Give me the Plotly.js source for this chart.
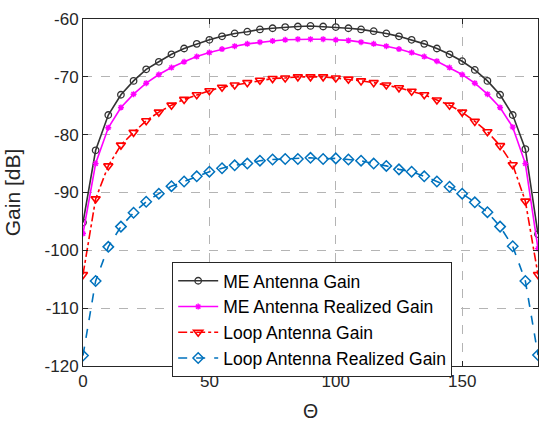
<!DOCTYPE html>
<html>
<head>
<meta charset="utf-8">
<script src="https://cdn.plot.ly/plotly-3.0.1.min.js"></script>
<style>
  html, body { margin: 0; padding: 0; background: #ffffff; }
  #chart { width: 540px; height: 422px; }
</style>
</head>
<body>
<div id="chart"></div>
<script>
// Elevation angle (degrees), sampled every 5 degrees
const theta = [0, 5, 10, 15, 20, 25, 30, 35, 40, 45, 50, 55, 60, 65, 70, 75, 80, 85, 90,
               95, 100, 105, 110, 115, 120, 125, 130, 135, 140, 145, 150, 155, 160, 165, 170, 175, 180];

// Gain values in dB
const meGain = [-95.2, -82.7, -76.6, -73.1, -70.7, -68.7, -67.4, -66.1, -65.1, -64.3, -63.6, -63.0, -62.5,
                -62.2, -61.8, -61.6, -61.4, -61.3, -61.2, -61.3, -61.4, -61.6, -61.8, -62.1, -62.5, -63.0,
                -63.6, -64.3, -65.1, -66.1, -67.3, -68.8, -70.7, -73.1, -76.6, -82.5, -97.2];
const meRealized = [-97.1, -85.0, -78.8, -75.3, -73.0, -71.1, -69.6, -68.4, -67.4, -66.5, -65.8, -65.2, -64.7,
                    -64.3, -64.0, -63.8, -63.6, -63.5, -63.5, -63.5, -63.6, -63.7, -64.0, -64.3, -64.7, -65.2,
                    -65.8, -66.5, -67.3, -68.4, -69.6, -71.1, -73.0, -75.3, -78.7, -85.0, -99.7];
const loopGain = [-104.2, -91.1, -85.4, -81.8, -79.6, -77.6, -76.1, -74.9, -73.9, -73.1, -72.4, -71.8, -71.4,
                  -71.0, -70.6, -70.3, -70.2, -70.0, -70.0, -70.0, -70.2, -70.4, -70.7, -71.0, -71.4, -71.9,
                  -72.5, -73.1, -74.0, -74.9, -76.1, -77.7, -79.5, -81.9, -85.2, -91.5, -104.2];
const loopRealized = [-118.2, -105.3, -99.4, -95.9, -93.5, -91.6, -90.2, -88.9, -88.1, -87.2, -86.4, -85.8, -85.3,
                      -85.0, -84.5, -84.3, -84.2, -84.2, -84.0, -84.2, -84.1, -84.3, -84.5, -85.0, -85.4, -86.0,
                      -86.4, -87.2, -88.1, -89.0, -90.2, -91.7, -93.4, -95.9, -99.3, -105.3, -118.1];

const seriesNames = ['ME Antenna Gain', 'ME Antenna Realized Gain', 'Loop Antenna Gain', 'Loop Antenna Realized Gain'];

const xTicks = [0, 50, 100, 150];
const yTicks = [-120, -110, -100, -90, -80, -70, -60];
const yTickText = ['-120', '-110', '-100', '-90', '-80', '-70', '-60'];

const axisColor = '#262626';
const gridColor = '#b4b4b4';

const traces = [
  {
    x: theta, y: meGain, name: seriesNames[0], type: 'scatter', mode: 'lines+markers',
    line: { color: '#333333', width: 1.6 },
    marker: { symbol: 'circle-open', size: 6.5, color: '#333333', line: { width: 1.3, color: '#333333' } }
  },
  {
    x: theta, y: meRealized, name: seriesNames[1], type: 'scatter', mode: 'lines+markers',
    line: { color: '#ff00ff', width: 1.6 },
    marker: { symbol: 'asterisk-open', size: 5, color: '#ff00ff', line: { width: 1.4, color: '#ff00ff' } }
  },
  {
    x: theta, y: loopGain, name: seriesNames[2], type: 'scatter', mode: 'lines+markers',
    line: { color: '#ff0000', width: 1.6, dash: 'dashdot' },
    marker: { symbol: 'triangle-down-open', size: 8, color: '#ff0000', line: { width: 1.6, color: '#ff0000' } }
  },
  {
    x: theta, y: loopRealized, name: seriesNames[3], type: 'scatter', mode: 'lines+markers',
    line: { color: '#0072bd', width: 1.6, dash: 'dash' },
    marker: { symbol: 'diamond-open', size: 8, color: '#0072bd', line: { width: 1.5, color: '#0072bd' } }
  }
];

const layout = {
  width: 540, height: 422,
  margin: { l: 83, r: 2, t: 19, b: 56 },
  paper_bgcolor: '#ffffff', plot_bgcolor: '#ffffff',
  font: { family: 'Liberation Sans, Arial, sans-serif', size: 17, color: axisColor },
  showlegend: true,
  legend: {
    x: 0.196, y: 0.30, xanchor: 'left', yanchor: 'top',
    bgcolor: '#ffffff', bordercolor: axisColor, borderwidth: 1,
    font: { size: 17.5, color: '#000000' },
    tracegroupgap: 0, itemwidth: 40
  },
  xaxis: {
    range: [0, 180], tickvals: xTicks, ticks: 'inside', ticklen: 5, tickcolor: axisColor,
    showline: true, linecolor: axisColor, linewidth: 1, mirror: 'ticks',
    showgrid: true, gridcolor: gridColor, griddash: 'dash', gridwidth: 1,
    zeroline: false,
    tickfont: { size: 17, color: axisColor },
    title: { text: 'Θ', font: { size: 19.5, color: axisColor }, standoff: 17 }
  },
  yaxis: {
    range: [-120, -60], tickvals: yTicks, ticktext: yTickText, ticks: 'inside', ticklen: 5, tickcolor: axisColor,
    showline: true, linecolor: axisColor, linewidth: 1, mirror: 'ticks',
    showgrid: true, gridcolor: gridColor, griddash: 'dash', gridwidth: 1,
    zeroline: false,
    tickfont: { size: 17, color: axisColor },
    title: { text: 'Gain [dB]', font: { size: 21, color: axisColor }, standoff: 18 }
  }
};

Plotly.newPlot('chart', traces, layout, { staticPlot: true, displayModeBar: false });
</script>
</body>
</html>
